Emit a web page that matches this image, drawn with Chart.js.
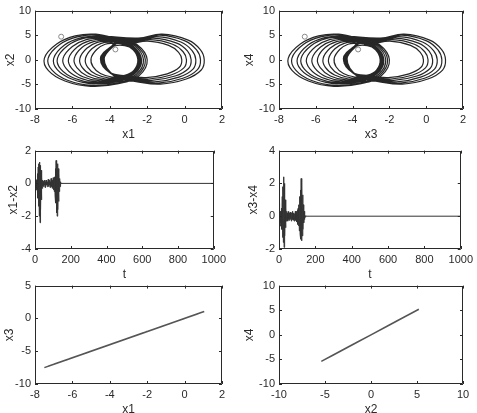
<!DOCTYPE html>
<html>
<head>
<meta charset="utf-8">
<script src="https://cdn.jsdelivr.net/npm/chart.js@4.4.1/dist/chart.umd.min.js"></script>
<style>
  body { margin: 0; background: #fff; width: 477px; height: 413px; overflow: hidden; position: relative; }
  canvas { position: absolute; }
</style>
</head>
<body>
<canvas id="c1" width="230" height="142" style="left:0;top:0"></canvas>
<canvas id="c2" width="237" height="142" style="left:240px;top:0"></canvas>
<canvas id="c3" width="230" height="142" style="left:0;top:140px"></canvas>
<canvas id="c4" width="237" height="142" style="left:240px;top:140px"></canvas>
<canvas id="c5" width="230" height="142" style="left:0;top:275px"></canvas>
<canvas id="c6" width="237" height="142" style="left:240px;top:275px"></canvas>
<script>
// attractor trajectory (x1 ~ x3, x2 ~ x4 once synchronised), one loop per line
const x1 = [
  -3.54,-2.55,-2.0,-2.44,-3.54,-5.02,-6.4,-7.28,-7.5,-6.84,-5.85,-4.75,
  -3.54,-2.68,-2.2,-2.58,-3.54,-4.84,-6.04,-6.81,-7.0,-6.42,-5.56,-4.6,
  -2.48,-1.2,0.19,0.84,1.05,0.89,0.09,-1.3,-2.59,-3.66,-4.3,-3.6,
  -3.51,-2.77,-2.35,-2.68,-3.51,-4.63,-5.67,-6.33,-6.5,-6.0,-5.26,-4.43,
  -2.7,-1.5,-0.2,0.4,0.6,0.45,-0.3,-1.6,-2.8,-3.8,-4.4,-3.75,
  -3.56,-2.62,-2.1,-2.52,-3.56,-4.96,-6.26,-7.09,-7.3,-6.68,-5.74,-4.7,
  -3.42,-2.8,-2.45,-2.73,-3.42,-4.35,-5.21,-5.76,-5.9,-5.49,-4.87,-4.18,
  -2.94,-1.83,-0.64,-0.08,0.1,-0.04,-0.73,-1.92,-3.03,-3.95,-4.5,-3.9,
  -3.56,-2.75,-2.3,-2.66,-3.56,-4.78,-5.9,-6.62,-6.8,-6.26,-5.45,-4.55,
  -2.58,-1.33,0.02,0.64,0.85,0.69,-0.09,-1.44,-2.69,-3.73,-4.35,-3.67,
  -3.28,-2.78,-2.5,-2.72,-3.28,-4.04,-4.74,-5.19,-5.3,-4.96,-4.46,-3.9,
  -3.46,-2.78,-2.4,-2.7,-3.46,-4.49,-5.44,-6.05,-6.2,-5.74,-5.06,-4.3,
  -2.82,-1.67,-0.42,0.16,0.35,0.21,-0.51,-1.76,-2.91,-3.87,-4.45,-3.83,
  -3.37,-2.81,-2.5,-2.75,-3.37,-4.2,-4.98,-5.48,-5.6,-5.23,-4.67,-4.05,
  -3.02,-1.98,-0.85,-0.32,-0.15,-0.28,-0.93,-2.06,-3.11,-3.98,-4.5,-3.93,
  -3.2,-2.75,-2.5,-2.7,-3.2,-3.88,-4.5,-4.9,-5.0,-4.7,-4.25,-3.75
];
const x2 = [
  4.42,3.12,0,-3.24,-4.86,-5.4,-4.3,-2.2,0.3,3.2,4.85,5.2,
  4.08,2.88,0,-2.94,-4.41,-4.9,-3.9,-2.0,0.3,3.0,4.45,4.8,
  4.42,5.2,4.0,2.08,0,-2.08,-3.9,-4.94,-4.42,-3.54,0.2,3.54,
  3.74,2.64,0,-2.7,-4.05,-4.5,-3.6,-1.8,0.3,2.7,4.1,4.4,
  4.0,4.7,3.62,1.88,0,-1.88,-3.53,-4.47,-4.0,-3.2,0.2,3.2,
  4.25,3.0,0,-3.12,-4.68,-5.2,-4.15,-2.1,0.3,3.1,4.65,5.0,
  3.4,2.4,0,-2.46,-3.69,-4.1,-3.3,-1.6,0.3,2.5,3.7,4.0,
  3.49,4.1,3.16,1.64,0,-1.64,-3.08,-3.9,-3.49,-2.79,0.2,2.79,
  3.91,2.76,0,-2.82,-4.23,-4.7,-3.75,-1.9,0.3,2.85,4.3,4.6,
  4.25,5.0,3.85,2.0,0,-2.0,-3.75,-4.75,-4.25,-3.4,0.2,3.4,
  3.06,2.16,0,-2.22,-3.33,-3.7,-2.95,-1.5,0.3,2.25,3.35,3.6,
  3.57,2.52,0,-2.58,-3.87,-4.3,-3.45,-1.7,0.3,2.6,3.9,4.2,
  3.74,4.4,3.39,1.76,0,-1.76,-3.3,-4.18,-3.74,-2.99,0.2,2.99,
  3.23,2.28,0,-2.34,-3.51,-3.9,-3.1,-1.55,0.3,2.35,3.55,3.8,
  3.23,3.8,2.93,1.52,0,-1.52,-2.85,-3.61,-3.23,-2.58,0.2,2.58,
  2.89,2.04,0,-2.1,-3.15,-3.5,-2.8,-1.4,0.3,2.1,3.15,3.4
];
// initial states (small circles)
const startX = [-6.6, -3.7];
const startY = [4.7, 2.1];

// synchronisation errors against time
const t = [0,2,4,6,8,10,12,14,16,18,20,22,24,26,28,30,32,34,36,38,40,
  42,44,46,48,50,52,54,56,58,60,62,64,66,68,70,72,74,76,78,80,82,84,86,88,90,
  92,94,96,98,100,102,104,106,108,110,112,114,116,118,120,122,124,126,128,130,
  132,134,136,138,140,142,144,146,148,150,1000];
const e12 = [0.5,-0.6,0.3,-0.4,0.2,-0.3,0.25,
  0.6,-0.9,1.0,-1.4,1.2,-2.0,1.3,-2.4,1.1,-1.6,0.8,-1.0,0.4,-0.3,
  0.2,-0.15,0.1,-0.2,0.15,-0.1,0.2,-0.25,0.1,-0.15,0.2,-0.1,0.15,-0.2,0.1,-0.1,0.25,-0.2,0.15,-0.1,
  0.2,-0.25,0.1,-0.15,0.3,-0.2,0.15,-0.3,0.2,-0.25,0.35,-0.4,0.3,-0.5,0.4,
  -0.7,0.9,-1.2,1.4,-1.8,1.3,-2.0,1.2,-1.6,0.9,-1.1,0.6,-0.5,0.3,-0.2,
  0.1,-0.06,0.03,-0.01,0,0];
const e34 = [0.8,-0.8,0.5,-0.6,0.3,-0.4,0.3,
  0.5,-0.8,1.2,-1.3,1.8,-1.6,2.4,-1.9,2.0,-1.2,1.0,-0.7,0.5,-0.3,
  0.3,-0.2,0.2,-0.3,0.15,-0.2,0.3,-0.25,0.2,-0.15,0.25,-0.2,0.15,-0.3,0.2,-0.1,0.3,-0.2,0.15,-0.25,
  0.2,-0.3,0.15,-0.2,0.3,-0.25,0.2,-0.35,0.3,-0.3,0.4,-0.5,0.5,-0.6,0.7,
  -0.9,1.2,-1.1,1.6,-1.4,2.3,-1.5,1.9,-1.2,1.3,-0.8,0.7,-0.4,0.3,-0.2,
  0.1,-0.06,0.03,-0.01,0,0];

// tick labels
const ticksX8 = [-8,-6,-4,-2,0,2];
const ticksY10 = [-10,-5,0,5,10];
const ticksT = [0,200,400,600,800,1000];
const ticksE12 = [-4,-2,0,2];
const ticksE34 = [-2,0,2,4];
const ticksY5 = [-10,-5,0,5];
const ticksX10 = [-10,-5,0,5,10];

const ink = '#2a2a2a';
const font = { family: 'Liberation Sans, Arial, sans-serif', size: 11 };

const pts = (xs, ys) => xs.map((v, i) => ({ x: v, y: ys[i] }));

// MATLAB style frame with inward ticks on all four sides
const boxPlugin = {
    id: 'box',
    afterDatasetsDraw(chart) {
        const { ctx, chartArea: a, scales } = chart;
        ctx.save();
        ctx.strokeStyle = ink;
        ctx.lineWidth = 1;
        ctx.beginPath();
        ctx.rect(Math.round(a.left) + 0.5, Math.round(a.top) + 0.5,
            Math.round(a.right - a.left) - 1, Math.round(a.bottom - a.top) - 1);
        scales.x.ticks.forEach(tk => {
            const px = Math.round(scales.x.getPixelForValue(tk.value)) + 0.5;
            ctx.moveTo(px, a.bottom); ctx.lineTo(px, a.bottom - 3);
            ctx.moveTo(px, a.top); ctx.lineTo(px, a.top + 3);
        });
        scales.y.ticks.forEach(tk => {
            const py = Math.round(scales.y.getPixelForValue(tk.value)) + 0.5;
            ctx.moveTo(a.left, py); ctx.lineTo(a.left + 3, py);
            ctx.moveTo(a.right, py); ctx.lineTo(a.right - 3, py);
        });
        ctx.stroke();
        ctx.restore();
    }
};

function axis(ticks, title, fit, titlePad) {
    return {
        type: 'linear',
        min: ticks[0],
        max: ticks[ticks.length - 1],
        afterBuildTicks: s => { s.ticks = ticks.map(v => ({ value: v })); },
        afterFit: fit,
        grid: { display: false, drawTicks: false },
        border: { display: false },
        ticks: { color: ink, font: font, padding: 4, maxRotation: 0, autoSkip: false, callback: v => String(v) },
        title: { display: true, text: title, color: ink, font: { family: font.family, size: 12 }, padding: titlePad }
    };
}

function panel(id, datasets, xt, yt, xTitle, yTitle, yWidth, padTop, padRight, yTitlePad) {
    new Chart(document.getElementById(id), {
        type: 'scatter',
        data: { datasets: datasets },
        options: {
            responsive: false,
            animation: false,
            layout: { padding: { top: padTop, right: padRight, left: 0, bottom: 0 } },
            plugins: { legend: { display: false }, tooltip: { enabled: false } },
            scales: {
                x: axis(xt, xTitle, s => { s.height = 33; }, { top: 0, bottom: 0 }),
                y: axis(yt, yTitle, s => { s.width = yWidth; }, { top: yTitlePad, bottom: 0 })
            }
        },
        plugins: [boxPlugin]
    });
}

function orbit(xs, ys) {
    return [
        { data: pts(xs, ys), showLine: true, pointRadius: 0, borderColor: '#262626', borderWidth: 1.2, tension: 0.4 },
        { data: pts(startX, startY), showLine: false, pointRadius: 2.5, pointBorderColor: '#888', pointBackgroundColor: 'rgba(0,0,0,0)', pointBorderWidth: 1 }
    ];
}

function error(ys) {
    return [{ data: pts(t, ys), showLine: true, pointRadius: 0, borderColor: '#333', borderWidth: 1, tension: 0 }];
}

function diag(vals) {
    return [{ data: pts(vals, vals), showLine: true, pointRadius: 0, borderColor: '#555', borderWidth: 1.5, tension: 0 }];
}

panel('c1', orbit(x1, x2), ticksX8, ticksY10, 'x1', 'x2', 35, 10, 8, 3);
panel('c2', orbit(x1, x2), ticksX8, ticksY10, 'x3', 'x4', 39, 10, 14, 2);
panel('c3', error(e12), ticksT, ticksE12, 't', 'x1-x2', 35, 9, 8, 6);
panel('c4', error(e34), ticksT, ticksE34, 't', 'x3-x4', 39, 9, 14, 6);
panel('c5', diag(x1), ticksX8, ticksY5, 'x1', 'x3', 35, 9, 8, 2);
panel('c6', diag(x2), ticksX10, ticksY10, 'x2', 'x4', 39, 9, 14, 2);
</script>
</body>
</html>
